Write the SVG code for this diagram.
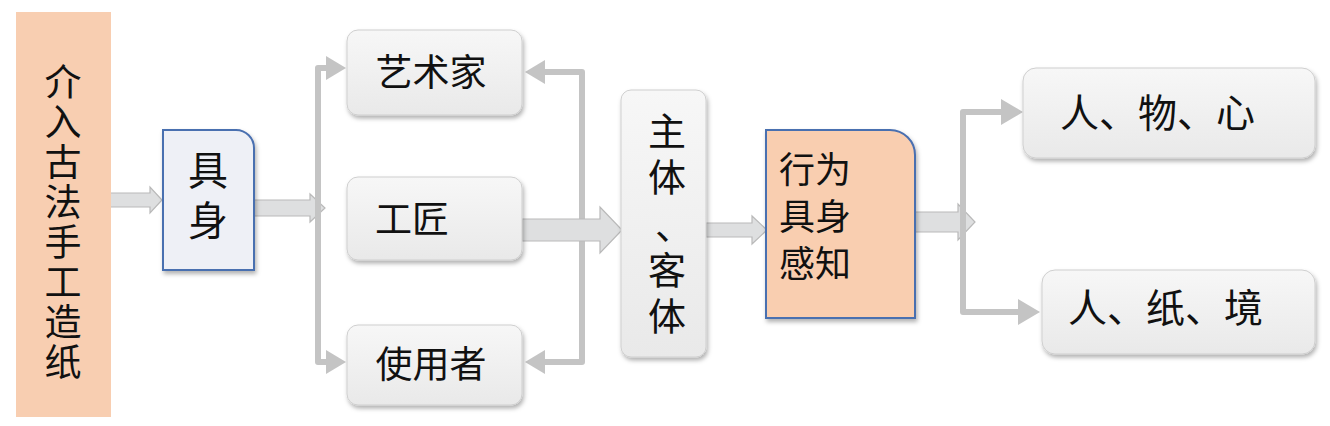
<svg xmlns="http://www.w3.org/2000/svg" width="1330" height="426" viewBox="0 0 1330 426">
<style>
.t{font-family:"Noto Sans CJK SC","Noto Sans CJK TC",sans-serif;fill:#111;dominant-baseline:central}
.v{font-family:"Noto Sans CJK SC","Noto Sans CJK TC",sans-serif;fill:#111;writing-mode:vertical-rl;text-orientation:upright}
.box{fill:url(#g);stroke:#cfcfcf;stroke-width:1;filter:url(#sh)}
.blk{fill:#dedfe0;stroke:#b9b9b9;stroke-width:1.2}
.ln{fill:none;stroke:#c4c4c4;stroke-width:6;stroke-linejoin:round}
.hd{fill:#c4c4c4}
</style>
<defs>
<linearGradient id="g" x1="0" y1="0" x2="0" y2="1">
<stop offset="0" stop-color="#f7f7f7"/>
<stop offset="1" stop-color="#e9e9e9"/>
</linearGradient>
<filter id="sh" x="-20%" y="-20%" width="140%" height="140%">
<feDropShadow dx="1.5" dy="3" stdDeviation="2" flood-color="#000" flood-opacity="0.3"/>
</filter>
</defs>

<g id="connectors">
<polygon class="blk" points="95,193 150,193 150,187 162,200 150,213 150,207 95,207"/>
<polygon class="blk" points="254,200 310,200 310,194 325,208 310,222 310,216 254,216"/>
<path class="ln" d="M330,68 H318 V362 H330"/>
<polygon class="hd" points="326,56 346,68 326,80"/>
<polygon class="hd" points="326,350 346,362 326,374"/>
<path class="ln" d="M540,72 H582 V362 H540"/>
<polygon class="hd" points="545,60 525,72 545,84"/>
<polygon class="hd" points="545,350 525,362 545,374"/>
<polygon class="blk" points="522,219 600,219 600,207 622,230 600,253 600,241 522,241"/>
<polygon class="blk" points="706,223 752,223 752,216 767,230 752,244 752,237 706,237"/>
<polygon class="blk" points="915,212 958,212 958,204 975,222 958,240 958,232 915,232"/>
<path class="ln" d="M1005,112 H963 V312 H1020"/>
<polygon class="hd" points="1001,99 1023,112 1001,125"/>
<polygon class="hd" points="1018,299 1040,312 1018,325"/>
</g>

<g id="n-start">
<rect x="16" y="12" width="95" height="405" fill="#f8ceb1"/>
<text class="v" font-size="37" x="63" y="63" letter-spacing="3">介入古法手工造纸</text>
</g>

<g id="n-jushen">
<path d="M163,130 H236 A18,18 0 0 1 254,148 V270 H163 Z" fill="#eef0f6" stroke="#4a6fb0" stroke-width="2" filter="url(#sh)"/>
<text class="v" font-size="40" x="208" y="150" letter-spacing="10">具身</text>
</g>

<g id="n-artist">
<rect class="box" x="347" y="30" width="175" height="85" rx="11"/>
<text class="t" font-size="37" x="431" y="70" text-anchor="middle">艺术家</text>
</g>

<g id="n-craftsman">
<rect class="box" x="347" y="177" width="175" height="83" rx="11"/>
<text class="t" font-size="37" x="375" y="217">工匠</text>
</g>

<g id="n-user">
<rect class="box" x="347" y="325" width="175" height="80" rx="11"/>
<text class="t" font-size="37" x="431" y="362" text-anchor="middle">使用者</text>
</g>

<g id="n-subject">
<rect class="box" x="621" y="90" width="85" height="267" rx="10"/>
<text class="v" font-size="38" x="667" y="112" letter-spacing="8">主体</text>
<text class="t" font-size="38" x="655" y="222">、</text>
<text class="v" font-size="38" x="667" y="251" letter-spacing="8">客体</text>
</g>

<g id="n-behavior">
<path d="M766,130 H890 A25,25 0 0 1 915,155 V318 H766 Z" fill="#f9ceb0" stroke="#4a6fb0" stroke-width="2" filter="url(#sh)"/>
<text class="t" font-size="36" text-anchor="middle"><tspan x="815" y="167">行为</tspan><tspan x="815" y="214">具身</tspan><tspan x="815" y="261">感知</tspan></text>
</g>

<g id="n-out1">
<rect class="box" x="1023" y="68" width="292" height="90" rx="13"/>
<text class="t" font-size="39" x="1060" y="110">人、物、心</text>
</g>

<g id="n-out2">
<rect class="box" x="1042" y="270" width="273" height="84" rx="13"/>
<text class="t" font-size="39" x="1068" y="305">人、纸、境</text>
</g>
</svg>
